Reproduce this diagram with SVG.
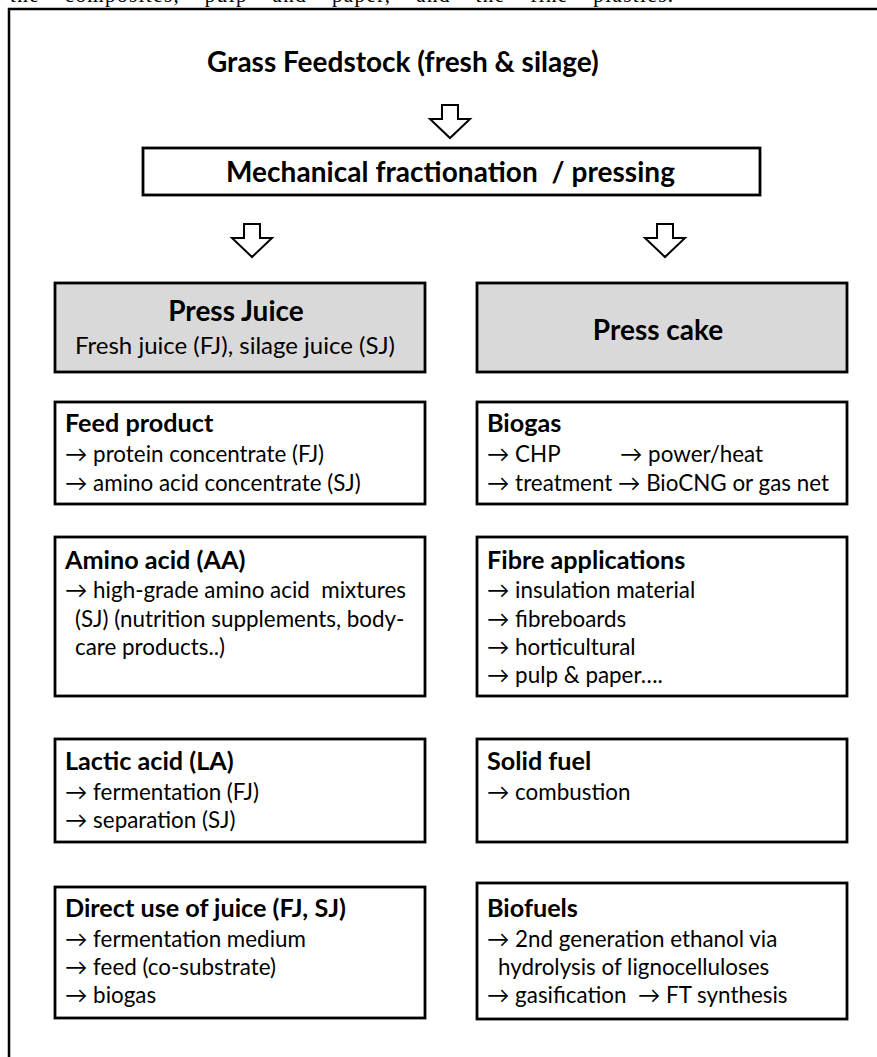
<svg xmlns="http://www.w3.org/2000/svg" width="877" height="1057" viewBox="0 0 877 1057">
<style>
.t{font-family:Lato,"Liberation Sans",sans-serif;fill:#000}
.h{font-weight:bold;font-size:25.2px}
.b{font-size:22.4px}
.big{font-weight:bold;font-size:28px}
.box{fill:#fff;stroke:#000;stroke-width:2.8}
.gbox{fill:#d9d9d9;stroke:#000;stroke-width:2.8}
.arr{fill:#fff;stroke:#000;stroke-width:2;stroke-linejoin:miter}
</style>
<rect width="877" height="1057" fill="#fff"/>
<text x="10" y="2" font-family="'Liberation Serif',serif" font-size="21" fill="#000" textLength="663" lengthAdjust="spacing" word-spacing="18">the composites, pulp and paper, and the fine plastics.</text>
<rect id="frame" x="9" y="9" width="900" height="1100" fill="none" stroke="#000" stroke-width="2.5"/>

<g id="grass"><text class="t big" x="207" y="72">Grass Feedstock (fresh &amp; silage)</text></g>

<g id="mech">
<rect class="box" x="143" y="148" width="617" height="47"/>
<text class="t big" x="226" y="182" textLength="449" lengthAdjust="spacing" xml:space="preserve">Mechanical fractionation  / pressing</text>
</g>

<g id="connectors">
<path class="arr" d="M442,105H458V119H470L450,138L430,119H442Z"/>
<path class="arr" d="M244,224H260V238H272L252,257L232,238H244Z"/>
<path class="arr" d="M657,224H673V238H685L665,257L645,238H657Z"/>
</g>

<g id="pressjuice">
<rect class="gbox" x="55" y="283" width="370" height="89"/>
<text class="t big" x="236" y="321" text-anchor="middle">Press Juice</text>
<text class="t" x="235" y="354" text-anchor="middle" font-size="24px">Fresh juice (FJ), silage juice (SJ)</text>
</g>

<g id="presscake">
<rect class="gbox" x="477" y="283" width="370" height="89"/>
<text class="t big" x="658" y="340" text-anchor="middle">Press cake</text>
</g>

<g id="feed">
<rect class="box" x="55" y="402" width="370" height="102"/>
<text class="t h" x="65" y="432">Feed product</text>
<text class="t b" x="65" y="462">→ protein concentrate (FJ)</text>
<text class="t b" x="65" y="491">→ amino acid concentrate (SJ)</text>
</g>

<g id="biogas">
<rect class="box" x="477" y="402" width="370" height="102"/>
<text class="t h" x="487" y="432">Biogas</text>
<text class="t b" x="487" y="462">→ CHP</text>
<text class="t b" x="620" y="462">→ power/heat</text>
<text class="t b" x="487" y="491">→ treatment → BioCNG or gas net</text>
</g>

<g id="amino">
<rect class="box" x="55" y="537" width="370" height="159"/>
<text class="t h" x="65" y="569">Amino acid (AA)</text>
<text class="t b" x="65" y="598" xml:space="preserve">→ high-grade amino acid  mixtures</text>
<text class="t b" x="75" y="627">(SJ) (nutrition supplements, body-</text>
<text class="t b" x="75" y="655">care products..)</text>
</g>

<g id="fibre">
<rect class="box" x="477" y="537" width="370" height="159"/>
<text class="t h" x="487" y="569">Fibre applications</text>
<text class="t b" x="487" y="598">→ insulation material</text>
<text class="t b" x="487" y="627">→ fibreboards</text>
<text class="t b" x="487" y="655">→ horticultural</text>
<text class="t b" x="487" y="683">→ pulp &amp; paper….</text>
</g>

<g id="lactic">
<rect class="box" x="55" y="739" width="370" height="103"/>
<text class="t h" x="65" y="770">Lactic acid (LA)</text>
<text class="t b" x="65" y="800">→ fermentation (FJ)</text>
<text class="t b" x="65" y="828">→ separation (SJ)</text>
</g>

<g id="solidfuel">
<rect class="box" x="477" y="739" width="370" height="103"/>
<text class="t h" x="487" y="770">Solid fuel</text>
<text class="t b" x="487" y="800">→ combustion</text>
</g>

<g id="direct">
<rect class="box" x="55" y="887" width="370" height="131"/>
<text class="t h" x="65" y="917">Direct use of juice (FJ, SJ)</text>
<text class="t b" x="65" y="947">→ fermentation medium</text>
<text class="t b" x="65" y="975">→ feed (co-substrate)</text>
<text class="t b" x="65" y="1003">→ biogas</text>
</g>

<g id="biofuels">
<rect class="box" x="477" y="883" width="370" height="136"/>
<text class="t h" x="487" y="917">Biofuels</text>
<text class="t b" x="487" y="947">→ 2nd generation ethanol via</text>
<text class="t b" x="498" y="975">hydrolysis of lignocelluloses</text>
<text class="t b" x="487" y="1003">→ gasification</text>
<text class="t b" x="638" y="1003">→ FT synthesis</text>
</g>
</svg>
